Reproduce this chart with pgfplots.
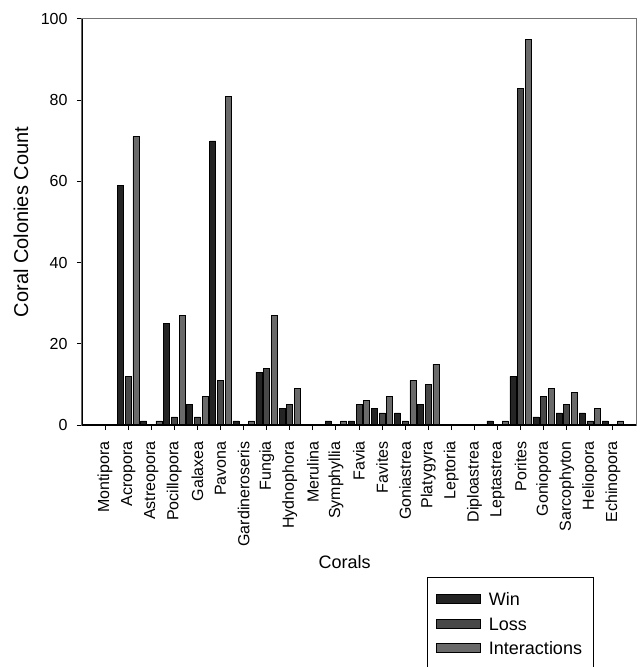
\documentclass[border=0pt]{standalone}
\usepackage{pgfplots}
\pgfplotsset{compat=1.18}
\usepackage{fontspec}
\setmainfont{Liberation Sans}
\definecolor{cwin}{HTML}{242424}
\definecolor{closs}{HTML}{484848}
\definecolor{cint}{HTML}{6A6A6A}
\begin{document}
\begin{tikzpicture}[x=1pt,y=1pt]
\begin{axis}[
  at={(0,0)}, anchor=south west,
  scale only axis, width=554pt, height=406pt,
  xmin=-1, xmax=23, ymin=0, ymax=100,
  ybar=1.7pt, bar width=6pt,
  axis line style={draw=gray!90!black, line width=1pt},
  xtick={0,...,22},
  xticklabels={Montipora,Acropora,Astreopora,Pocillopora,Galaxea,Pavona,Gardineroseris,Fungia,Hydnophora,Merulina,Symphyllia,Favia,Favites,Goniastrea,Platygyra,Leptoria,Diploastrea,Leptastrea,Porites,Goniopora,Sarcophyton,Heliopora,Echinopora},
  ytick={0,20,40,60,80,100},
  xtick pos=bottom, ytick pos=left,
  tick align=outside, major tick length=5pt,
  tick style={black, line width=1pt},
  /pgf/number format/assume math mode=true,
  xticklabel shift=8pt, yticklabel shift=6pt,
  xticklabel style={font=\fontsize{16}{19}\selectfont, rotate=90, anchor=east},
  yticklabel style={font=\fontsize{16}{19}\selectfont},
  ylabel={Coral Colonies Count},
  ylabel style={font=\fontsize{20}{24}\selectfont, at={(axis description cs:-0.11,0.5)}, anchor=center},
  xlabel={Corals},
  xlabel style={font=\fontsize{18}{22}\selectfont, at={(axis description cs:0.474,-0.3367)}, anchor=center},
  legend style={at={(axis description cs:0.6227,-0.3744)}, anchor=north west,
    draw=black, line width=0.8pt, inner xsep=9pt, inner ysep=13.5pt,
    font=\fontsize{18}{22}\selectfont, row sep=7.5pt,
    nodes={text height=13pt, text depth=0pt, inner sep=2pt},
    /tikz/every odd column/.append style={column sep=6pt}},
  legend cell align=left,
  legend image code/.code={\draw[#1,line width=0.6pt] (0pt,-4pt) rectangle (44pt,5pt);},
]
\addplot[fill=cwin, draw=black, line width=0.6pt] coordinates {
 (1,59) (2,1) (3,25) (4,5) (5,70) (6,1) (7,13) (8,4) (10,1) (11,1) (12,4) (13,3) (14,5) (17,1) (18,12) (19,2) (20,3) (21,3) (22,1)};
\addlegendentry{Win}
\addplot[fill=closs, draw=black, line width=0.6pt] coordinates {
 (1,12) (3,2) (4,2) (5,11) (7,14) (8,5) (11,5) (12,3) (13,1) (14,10) (18,83) (19,7) (20,5) (21,1)};
\addlegendentry{Loss}
\addplot[fill=cint, draw=black, line width=0.6pt] coordinates {
 (1,71) (2,1) (3,27) (4,7) (5,81) (6,1) (7,27) (8,9) (10,1) (11,6) (12,7) (13,11) (14,15) (17,1) (18,95) (19,9) (20,8) (21,4) (22,1)};
\addlegendentry{Interactions}
\draw[black, line width=1.2pt] (rel axis cs:0,1) -- (rel axis cs:0,0) -- (rel axis cs:1,0);
\end{axis}
\pgfresetboundingbox
\path[use as bounding box] (-82,-242) rectangle (559,425);
\end{tikzpicture}
\end{document}
